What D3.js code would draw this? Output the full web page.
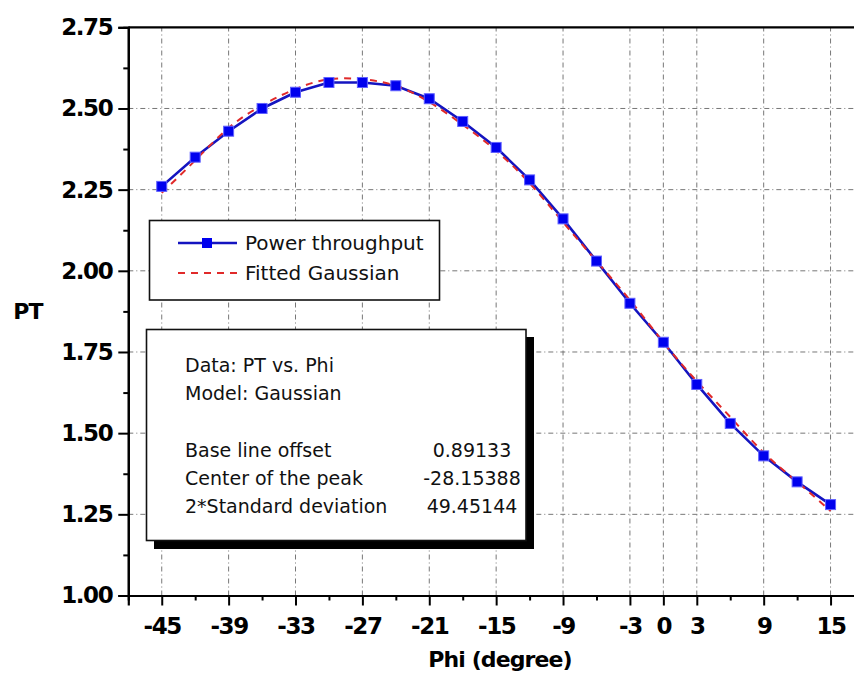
<!DOCTYPE html>
<html>
<head>
<meta charset="utf-8">
<script src="https://cdn.jsdelivr.net/npm/d3@7"></script>
<style>
  body { margin: 0; background: #fff; }
  svg { display: block; }
  .tick text { font-family: "DejaVu Sans", sans-serif; font-weight: bold; font-size: 23px; letter-spacing: -1.4px; fill: #000; }
  .title { font-family: "DejaVu Sans", sans-serif; font-weight: bold; font-size: 22px; letter-spacing: -0.9px; fill: #000; }
  .note { font-family: "DejaVu Sans", sans-serif; font-size: 19px; fill: #111; }
</style>
</head>
<body>
<svg id="chart" width="854" height="677"></svg>
<script>
// data
var phi = [-45, -42, -39, -36, -33, -30, -27, -24, -21, -18, -15, -12, -9, -6, -3, 0, 3, 6, 9, 12, 15];
var power = [2.26, 2.35, 2.43, 2.50, 2.55, 2.58, 2.58, 2.57, 2.53, 2.46, 2.38, 2.28, 2.16, 2.03, 1.90, 1.78, 1.65, 1.53, 1.43, 1.35, 1.28];
var fitted = [2.24, 2.34, 2.44, 2.51, 2.56, 2.59, 2.59, 2.57, 2.52, 2.45, 2.37, 2.27, 2.15, 2.03, 1.91, 1.78, 1.66, 1.55, 1.44, 1.35, 1.26];
var xMajor = [-45, -39, -33, -27, -21, -15, -9, -3, 0, 3, 9, 15];
var xMinor = [-42, -36, -30, -24, -18, -12, -6, 6, 12];
var yMajor = [1.00, 1.25, 1.50, 1.75, 2.00, 2.25, 2.50, 2.75];
var yMinor = [1.125, 1.375, 1.625, 1.875, 2.125, 2.375, 2.625];
var legendItems = ["Power throughput", "Fitted Gaussian"];
var fitLines = ["Data: PT vs. Phi", "Model: Gaussian"];
var fitParams = [["Base line offset", "0.89133"], ["Center of the peak", "-28.15388"], ["2*Standard deviation", "49.45144"]];

(function () {
var svg = d3.select("#chart");
var plotL = 128.3, plotT = 27.3, plotB = 595.5;

var x = d3.scaleLinear().domain([-48, 18]).range([plotL, plotL + 66 * 11.147]);
var y = d3.scaleLinear().domain([1, 2.75]).range([plotB, plotT]);

// grid
var grid = svg.append("g").attr("stroke", "#777").attr("stroke-width", 1).attr("stroke-dasharray", "5,3,1,3");
grid.selectAll(".gx").data(xMajor).enter().append("line")
    .attr("x1", d => x(d)).attr("x2", d => x(d)).attr("y1", plotB).attr("y2", plotT);
grid.selectAll(".gy").data(yMajor.slice(1, -1)).enter().append("line")
    .attr("x1", plotL).attr("x2", 854).attr("y1", d => y(d)).attr("y2", d => y(d));

// axes
var xAxis = svg.append("g").attr("transform", "translate(0," + plotB + ")")
    .call(d3.axisBottom(x).tickValues(xMajor).tickSize(10).tickPadding(7).tickFormat(d => String(d)));
svg.append("g").attr("transform", "translate(0," + plotB + ")")
    .call(d3.axisBottom(x).tickValues(xMinor).tickSize(5).tickFormat(""));
svg.append("g").attr("transform", "translate(" + plotL + ",0)")
    .call(d3.axisLeft(y).tickValues(yMajor).tickSize(10).tickPadding(6).tickFormat(d3.format(".2f")));
svg.append("g").attr("transform", "translate(" + plotL + ",0)")
    .call(d3.axisLeft(y).tickValues(yMinor).tickSize(5).tickFormat(""));
svg.selectAll(".domain").attr("stroke", "#000").attr("stroke-width", 2.2);
svg.selectAll(".tick line").attr("stroke", "#000").attr("stroke-width", 2);
xAxis.selectAll(".tick text").attr("dy", "0.95em");

// top border
svg.append("line").attr("x1", plotL).attr("x2", 854).attr("y1", plotT).attr("y2", plotT)
    .attr("stroke", "#000").attr("stroke-width", 2.2);

// axis titles
svg.append("text").attr("class", "title").attr("x", 500).attr("y", 667).attr("text-anchor", "middle")
    .text("Phi (degree)");
svg.append("text").attr("class", "title").attr("x", 28).attr("y", 319).attr("text-anchor", "middle")
    .text("PT");

// series
var pts = phi.map((p, i) => [p, power[i]]);
var fit = phi.map((p, i) => [p, fitted[i]]);
svg.append("path").datum(pts)
    .attr("fill", "none").attr("stroke", "#1414c0").attr("stroke-width", 2.6)
    .attr("d", d3.line().x(d => x(d[0])).y(d => y(d[1])));
svg.append("path").datum(fit)
    .attr("fill", "none").attr("stroke", "#e02a2a").attr("stroke-width", 2).attr("stroke-dasharray", "7,6")
    .attr("d", d3.line().curve(d3.curveNatural).x(d => x(d[0])).y(d => y(d[1])));
svg.selectAll(".pt").data(pts).enter().append("rect")
    .attr("x", d => x(d[0]) - 5).attr("y", d => y(d[1]) - 5)
    .attr("width", 10).attr("height", 10)
    .attr("fill", "#0000ee").attr("stroke", "#6060ff").attr("stroke-width", 1);

// legend
var lg = svg.append("g");
lg.append("rect").attr("x", 149.5).attr("y", 220.5).attr("width", 290).attr("height", 79.5)
    .attr("fill", "#fff").attr("stroke", "#111").attr("stroke-width", 1.6);
lg.append("line").attr("x1", 178).attr("x2", 237).attr("y1", 243).attr("y2", 243)
    .attr("stroke", "#1414c0").attr("stroke-width", 2.6);
lg.append("rect").attr("x", 202).attr("y", 238).attr("width", 10).attr("height", 10).attr("fill", "#0000ee");
lg.append("line").attr("x1", 178).attr("x2", 237).attr("y1", 273).attr("y2", 273)
    .attr("stroke", "#e02a2a").attr("stroke-width", 2).attr("stroke-dasharray", "7,6");
lg.selectAll(".lt").data(legendItems).enter().append("text").attr("class", "note")
    .attr("x", 245).attr("y", (d, i) => 250 + i * 30).style("font-size", "20px").text(d => d);

// fit result box with shadow
var bx = svg.append("g");
bx.append("rect").attr("x", 154).attr("y", 337).attr("width", 380).attr("height", 212).attr("fill", "#000");
bx.append("rect").attr("x", 146.5).attr("y", 329.5).attr("width", 379.5).attr("height", 211)
    .attr("fill", "#fff").attr("stroke", "#111").attr("stroke-width", 1.6);
bx.selectAll(".fl").data(fitLines).enter().append("text").attr("class", "note")
    .attr("x", 185).attr("y", (d, i) => 372 + i * 28).text(d => d);
bx.selectAll(".pn").data(fitParams).enter().append("text").attr("class", "note")
    .attr("x", 185).attr("y", (d, i) => 456.5 + i * 28).text(d => d[0]);
bx.selectAll(".pv").data(fitParams).enter().append("text").attr("class", "note")
    .attr("x", 472).attr("y", (d, i) => 456.5 + i * 28).attr("text-anchor", "middle").text(d => d[1]);
})();
</script>
</body>
</html>
